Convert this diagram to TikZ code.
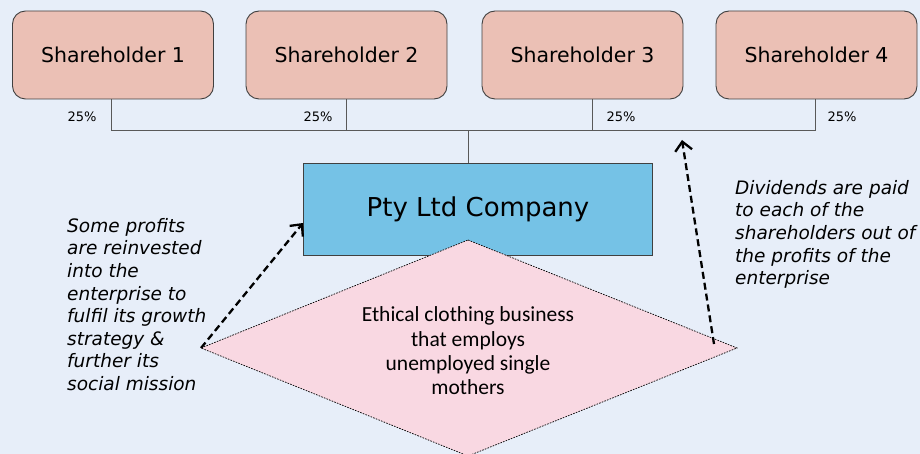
\documentclass[tikz,border=0pt]{standalone}
\usepackage{fontspec}
\setmainfont{DejaVu Sans}
\newfontfamily\diafont{Carlito}
\usetikzlibrary{arrows.meta,calc}
\definecolor{bgc}{HTML}{E7EEF9}
\definecolor{shc}{HTML}{EBC0B5}
\definecolor{coc}{HTML}{75C2E6}
\definecolor{dic}{HTML}{F9D8E2}
\definecolor{linec}{HTML}{595959}
\definecolor{bordc}{HTML}{404040}
\tikzset{
  shbox/.style={draw=bordc, line width=0.9pt, fill=shc, rounded corners=13pt,
    minimum width=201pt, minimum height=88pt, inner sep=0pt,
    font=\fontsize{20.5}{24}\selectfont},
  cobox/.style={draw=bordc, line width=0.9pt, fill=coc,
    minimum width=349pt, minimum height=92pt, inner sep=0pt,
    font=\fontsize{26}{30}\selectfont},
  diashape/.style={draw=black, line width=0.7pt, dash pattern=on 1.6pt off 1.2pt, fill=dic},
  diatext/.style={align=center, inner sep=0pt, font=\diafont\fontsize{21.5}{24.4}\selectfont},
  pct/.style={font=\fontsize{13}{15}\selectfont, inner sep=0pt},
  link/.style={draw=linec, line width=0.9pt},
  note/.style={align=left, inner sep=0pt, font=\itshape\fontsize{18.5}{22.6}\selectfont},
  flow/.style={line width=2.3pt, dash pattern=on 7pt off 4pt,
    -{Straight Barb[length=9pt,width=17pt,line width=2.3pt]}}
}
\begin{document}
\begin{tikzpicture}[x=1pt,y=-1pt]
\fill[bgc] (0,0) rectangle (920,454);
\useasboundingbox (0,0) rectangle (920,454);
\node[shbox] (sh1) at (113,55) {Shareholder 1};
\node[shbox] (sh2) at (346.5,55) {Shareholder 2};
\node[shbox] (sh3) at (582.5,55) {Shareholder 3};
\node[shbox] (sh4) at (816.5,55) {Shareholder 4};
\coordinate (bus) at (468,130);
\coordinate (s1) at ($(sh1.south)+(-2,0)$);
\coordinate (s3) at ($(sh3.south)+(9.5,0)$);
\coordinate (s4) at ($(sh4.south)+(-1.5,0)$);
\node[cobox] (co) at (478,209) {Pty Ltd Company};
\draw[link] (s1) |- (s4 |- bus) -- (s4);
\draw[link] (sh2.south) -- (sh2.south |- bus);
\draw[link] (s3) -- (s3 |- bus);
\draw[link] (co.north -| bus) -- (bus);
\node[pct] (p1) at (82,117) {25\%};
\node[pct] (p2) at (318,117) {25\%};
\node[pct] (p3) at (621,117) {25\%};
\node[pct] (p4) at (842,117) {25\%};
\coordinate (dtop) at (468,240);
\coordinate (dright) at (737,348);
\coordinate (dbot) at (468,456);
\coordinate (dleft) at (201,348);
\draw[diashape] (dtop) -- (dright) -- (dbot) -- (dleft) -- cycle;
\node[diatext] (dia) at (468,351) {Ethical clothing business\\that employs\\unemployed single\\mothers};
\coordinate (coin) at (303,223);
\coordinate (dstart) at (714,344);
\coordinate (dend) at (682,140);
\draw[flow] (dleft) -- (coin);
\draw[flow] (dstart) -- (dend);
\node[note, anchor=north west] (n1) at (67,218) {Some profits\\are reinvested\\into the\\enterprise to\\fulfil its growth\\strategy \&\\further its\\social mission};
\node[note, anchor=north west] (n2) at (735,180) {Dividends are paid\\to each of the\\shareholders out of\\the profits of the\\enterprise};
\end{tikzpicture}
\end{document}
